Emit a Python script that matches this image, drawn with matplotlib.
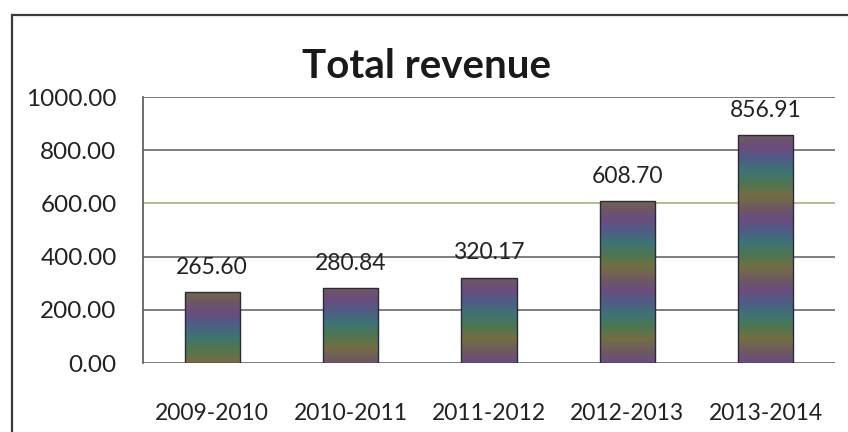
import numpy as np
import matplotlib
matplotlib.use("Agg")
import matplotlib.pyplot as plt
from matplotlib.colors import LinearSegmentedColormap
from matplotlib.patches import Rectangle

plt.rcParams['font.family'] = ['Lato', 'DejaVu Sans']

years = ["2009-2010", "2010-2011", "2011-2012", "2012-2013", "2013-2014"]
revenue = [265.60, 280.84, 320.17, 608.70, 856.91]
y_ticks = [0, 200, 400, 600, 800, 1000]

W, H = 848, 432
fig = plt.figure(figsize=(W / 100, H / 100), dpi=100)
fig.patch.set_facecolor('white')

# outer chart frame (top and left edges)
fig.add_artist(Rectangle((12 / W, -0.1), 1.2, (H - 15) / H + 0.1,
                         transform=fig.transFigure, fill=False,
                         edgecolor='#3a3a3a', linewidth=1.6))

ax = fig.add_axes([143 / W, (H - 363) / H, (835 - 143) / W, (363 - 97) / H])

for s in ['top', 'right', 'bottom']:
    ax.spines[s].set_visible(False)
ax.spines['left'].set_color('#555555')
ax.spines['left'].set_linewidth(1.2)

ax.set_yticks(y_ticks)
ax.set_yticklabels([f"{v:.2f}" for v in y_ticks])
ax.grid(axis='y', color='#5a5a5a', linewidth=1.1)
ax.set_axisbelow(True)
ax.tick_params(axis='y', length=0, pad=19, labelsize=17.5, labelcolor='#222222')
ax.tick_params(axis='x', length=0, pad=29, labelsize=16.5, labelcolor='#222222')
ax.set_xticks(range(len(years)))
ax.set_xticklabels(years)

# a faint olive tint on the 600 gridline
for v, gl in zip(y_ticks, ax.get_ygridlines()):
    if v == 600:
        gl.set_color('#a8a870')

# banded purple/olive/teal fill used for the bars
band = LinearSegmentedColormap.from_list(
    'band', ['#6a4c80', '#6e5a60', '#746e44', '#4f7650', '#3e7474',
             '#4d5e84', '#6a4c80'])

bars = ax.bar(range(len(years)), revenue, width=0.4, color='none',
              edgecolor='#2a2a3a', linewidth=1.0, zorder=3)
phases = [0.3, 0.12, 0.0, 0.0, 0.0]
for b, ph in zip(bars, phases):
    x0, w, h = b.get_x(), b.get_width(), b.get_height()
    t = (np.linspace(0, h, 256) / 270.0 + ph) % 1.0
    img = band(t)[:, None, :3]
    im = ax.imshow(img, extent=(x0, x0 + w, 0, h), origin='lower',
                   aspect='auto', zorder=2, interpolation='bilinear')
    im.set_clip_path(b)

ax.set_xlim(-0.5, len(years) - 0.5)
ax.set_ylim(0, 1000)

for i, v in enumerate(revenue):
    ax.annotate(f"{v:.2f}", (i, v), xytext=(0, 18), textcoords='offset points',
                ha='center', va='center', fontsize=16.5, color='#222222')

fig.text(0.503, (H - 67) / H, "Total revenue", ha='center', va='center',
         fontsize=29, fontweight='bold', color='#1a1a1a')

fig.savefig("out.png", dpi=100)
